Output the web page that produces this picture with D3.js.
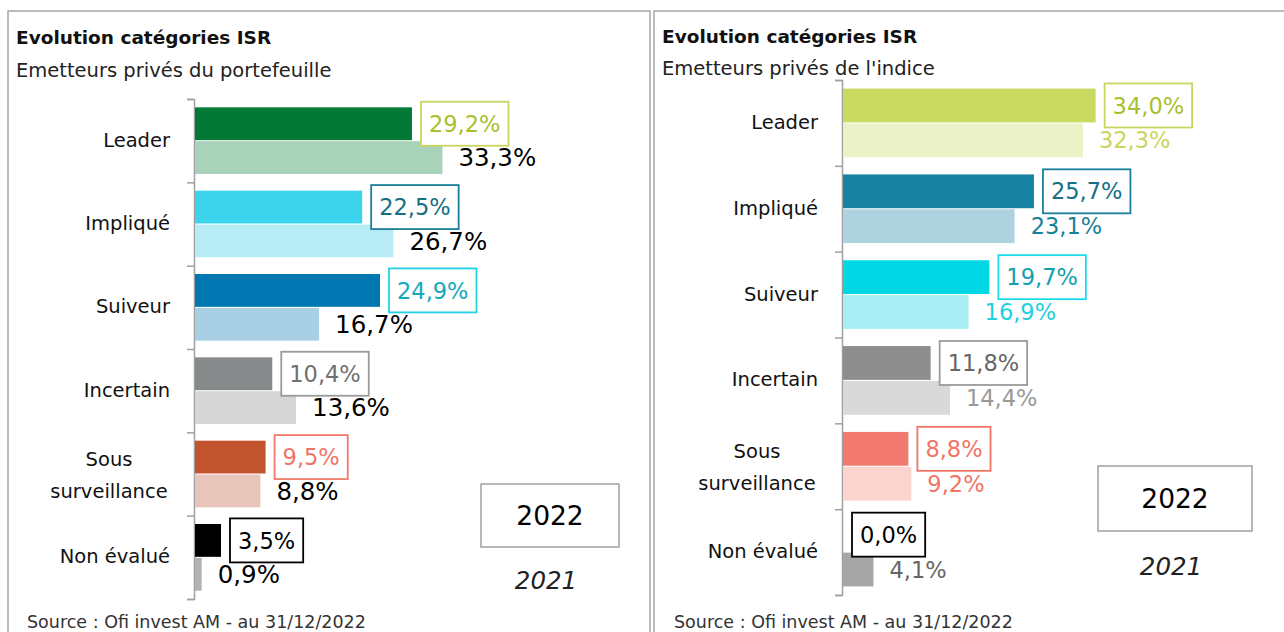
<!DOCTYPE html>
<html>
<head>
<meta charset="utf-8">
<script src="https://cdn.jsdelivr.net/npm/d3@7"></script>
<style>
  body{margin:0;background:#fff;}
  svg{display:block;font-family:"DejaVu Sans",sans-serif;}
</style>
</head>
<body>
<svg id="chart"></svg>
<script>
const width = 1284, height = 632;

// données
const categories = ["Leader","Impliqué","Suiveur","Incertain","Sous surveillance","Non évalué"];
const years = ["2022","2021"];
const portefeuille2022 = [29.2,22.5,24.9,10.4,9.5,3.5];
const portefeuille2021 = [33.3,26.7,16.7,13.6,8.8,0.9];
const indice2022 = [34.0,25.7,19.7,11.8,8.8,0.0];
const indice2021 = [32.3,23.1,16.9,14.4,9.2,4.1];

// couleurs
const coulPort2022 = ["#027a36","#3bd4ec","#0077b0","#868a8b","#c35430","#000000"];
const coulPort2021 = ["#a8d2ba","#b8ecf5","#a8cfe3","#d6d6d6","#e8c5ba","#b3b3b3"];
const cadrePort = ["#c9d55f","#1a7f9a","#22d3e6","#9a9a9a","#f27a6c","#000000"];
const textePort = ["#a9bf2e","#156f85","#13a9ba","#707070","#f07566","#000000"];
const coulInd2022 = ["#cad95f","#1782a2","#00d8e6","#8e8e8e","#f27a6f","#000000"];
const coulInd2021 = ["#ebf2c8","#aed3df","#a8eff5","#d9d9d9","#fbd3cf","#a6a6a6"];
const cadreInd = ["#c9d55f","#1a7f9a","#1cdbe8","#9a9a9a","#f07566","#000000"];
const texteInd = ["#a9bf2e","#156f85","#129fae","#666666","#f07566","#000000"];
const texteInd2021 = ["#c9d55f","#1a7f9a","#1cd0e0","#999999","#f07566","#666666"];

const fmt = v => d3.format(".1f")(v).replace(".",",")+"%";

const svg = d3.select('#chart').attr('width',width).attr('height',height);

const panneaux = [
  {x:8, w:642, titre:"Evolution catégories ISR", sousTitre:"Emetteurs privés du portefeuille",
   axeX:194, yHaut:99, yBas:599, v2022:portefeuille2022, v2021:portefeuille2021,
   c2022:coulPort2022, c2021:coulPort2021, cadre:cadrePort, texte:textePort,
   texte2021:categories.map(()=>"#000"), taille2021:24.5, decal2021:16,
   legende:{x:481,y:484,w:138,h:63,y2021:589}, source:{x:27,y:628}, titreY:44, sousTitreY:77},
  {x:654, w:640, titre:"Evolution catégories ISR", sousTitre:"Emetteurs privés de l'indice",
   axeX:842, yHaut:80, yBas:595, v2022:indice2022, v2021:indice2021,
   c2022:coulInd2022, c2021:coulInd2021, cadre:cadreInd, texte:texteInd,
   texte2021:texteInd2021, taille2021:22.5, decal2021:16,
   legende:{x:1098,y:466,w:154,h:65,y2021:575}, source:{x:674,y:628}, titreY:43, sousTitreY:75}
];

panneaux.forEach(p=>{
  const g = svg.append('g');
  g.append('rect')
    .attr('x',p.x).attr('y',11).attr('width',p.w).attr('height',700)
    .attr('fill','none').attr('stroke','#a6a6a6').attr('stroke-width',1.5);
  g.append('text').attr('x',p.x+8).attr('y',p.titreY)
    .attr('font-size',18.5).attr('font-weight',600).attr('fill','#111').text(p.titre);
  g.append('text').attr('x',p.x+8).attr('y',p.sousTitreY)
    .attr('font-size',19.5).attr('fill','#222').text(p.sousTitre);

  const x = d3.scaleLinear().domain([0,40]).range([p.axeX+1,p.axeX+1+40*7.43]);
  const y = d3.scaleBand().domain(categories).range([p.yHaut,p.yBas]).paddingInner(0.2).paddingOuter(0.1);
  const ySub = d3.scaleBand().domain(years).range([0,y.bandwidth()]).paddingInner(0.03);

  // axe vertical
  const axe = d3.axisLeft(d3.scaleLinear().domain([0,categories.length]).range([p.yHaut,p.yBas]))
    .ticks(categories.length).tickSize(7).tickFormat('');
  g.append('g').attr('transform',`translate(${p.axeX},0)`).call(axe)
    .call(a=>a.selectAll('path,line').attr('stroke','#a0a0a0').attr('stroke-width',1.5));

  // libellés des catégories
  categories.forEach(c=>{
    const cy = y(c)+y.bandwidth()/2;
    const t = g.append('text').attr('font-size',19.5).attr('fill','#111');
    if(c==="Sous surveillance"){
      t.attr('text-anchor','middle');
      t.append('tspan').attr('x',p.axeX-85).attr('y',cy-8).text("Sous");
      t.append('tspan').attr('x',p.axeX-85).attr('y',cy+24).text("surveillance");
    } else {
      t.attr('text-anchor','end').attr('x',p.axeX-24).attr('y',cy+6).text(c);
    }
  });

  const rows = categories.map((c,i)=>({c,i,v22:p.v2022[i],v21:p.v2021[i]}));

  // barres 2022
  g.selectAll('.b22').data(rows).join('rect').classed('b22',true)
    .attr('x',x(0)).attr('y',d=>y(d.c)+ySub("2022"))
    .attr('width',d=>x(d.v22)-x(0)).attr('height',ySub.bandwidth())
    .attr('fill',d=>p.c2022[d.i]);
  // barres 2021
  g.selectAll('.b21').data(rows).join('rect').classed('b21',true)
    .attr('x',x(0)).attr('y',d=>y(d.c)+ySub("2021"))
    .attr('width',d=>x(d.v21)-x(0)).attr('height',ySub.bandwidth())
    .attr('fill',d=>p.c2021[d.i]);

  // étiquettes 2021
  g.selectAll('.l21').data(rows).join('text').classed('l21',true)
    .attr('x',d=>x(d.v21)+p.decal2021).attr('y',d=>y(d.c)+ySub("2021")+ySub.bandwidth()/2)
    .attr('dy','0.36em').attr('font-size',p.taille2021)
    .attr('fill',d=>p.texte2021[d.i]).text(d=>fmt(d.v21));

  // étiquettes 2022 encadrées
  const l22 = g.selectAll('.l22').data(rows).join('g').classed('l22',true)
    .attr('transform',d=>`translate(${x(d.v22)+9},${y(d.c)+ySub("2022")+ySub.bandwidth()/2})`);
  l22.append('rect').attr('y',-22).attr('height',44)
    .attr('fill','#fff').attr('stroke',d=>p.cadre[d.i]).attr('stroke-width',1.8);
  l22.append('text').attr('x',8).attr('dy','0.36em').attr('font-size',22.5)
    .attr('fill',d=>p.texte[d.i]).text(d=>fmt(d.v22));
  l22.each(function(){
    const gg = d3.select(this);
    const w = gg.select('text').node().getComputedTextLength();
    gg.select('rect').attr('width',w+16);
  });

  // légende
  const L = p.legende;
  g.append('rect').attr('x',L.x).attr('y',L.y).attr('width',L.w).attr('height',L.h)
    .attr('fill','#fff').attr('stroke','#a0a0a0').attr('stroke-width',1.5);
  g.append('text').attr('x',L.x+L.w/2).attr('y',L.y+L.h/2).attr('dy','0.36em')
    .attr('text-anchor','middle').attr('font-size',26.5).attr('fill','#000').text(years[0]);
  g.append('text').attr('x',L.x+L.w/2-4).attr('y',L.y2021)
    .attr('text-anchor','middle').attr('font-size',24.5).attr('font-style','italic').attr('fill','#222').text(years[1]);

  g.append('text').attr('x',p.source.x).attr('y',p.source.y)
    .attr('font-size',17.5).attr('fill','#333').text("Source : Ofi invest AM - au 31/12/2022");
});
</script>
</body>
</html>
